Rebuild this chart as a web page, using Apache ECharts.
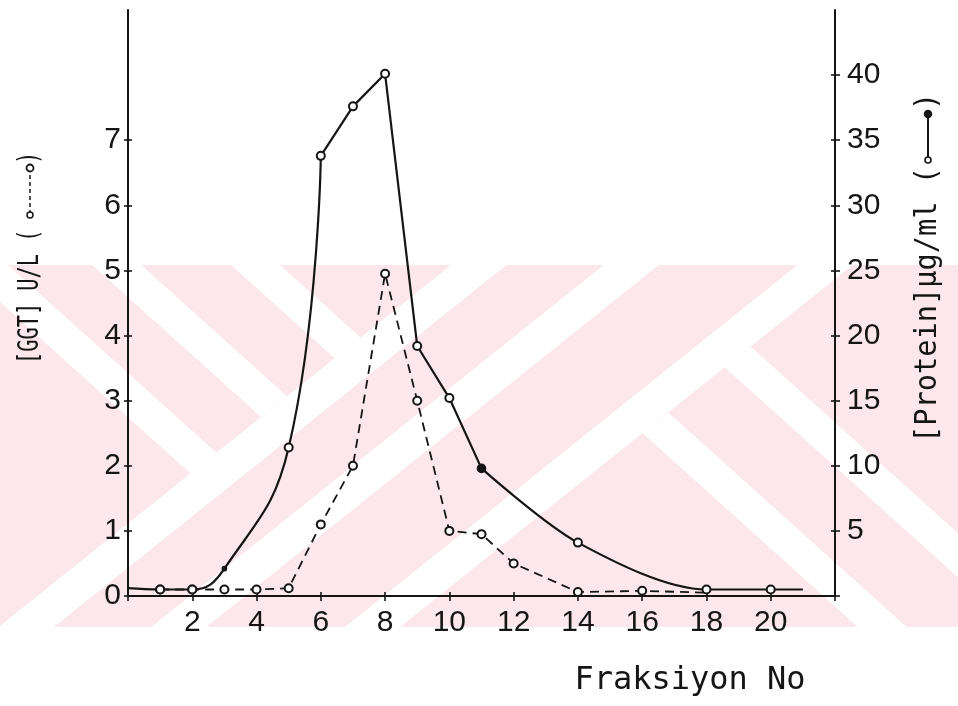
<!DOCTYPE html>
<html>
<head>
<meta charset="utf-8">
<script src="https://cdn.jsdelivr.net/npm/echarts@6/dist/echarts.min.js"></script>
<style>
  html, body { margin: 0; padding: 0; background: #fff; }
  #chart { width: 958px; height: 706px; }
</style>
</head>
<body>
<div id="chart"></div>
<script>
// Fraction numbers and measured values
const fractionsGGT = [1, 2, 3, 4, 5, 6, 7, 8, 9, 10, 11, 12, 14, 16, 18];
const ggtValues = [0.1, 0.1, 0.1, 0.1, 0.12, 1.1, 2.0, 4.95, 3.0, 1.0, 0.95, 0.5, 0.06, 0.08, 0.05];

const fractionsProtein = [0, 1, 2, 3, 5, 6, 7, 8, 9, 10, 11, 14, 18, 20, 21];
const proteinValues = [0.6, 0.5, 0.5, 2.1, 11.4, 33.8, 37.6, 40.1, 19.2, 15.2, 9.8, 4.1, 0.5, 0.5, 0.5];

// Tick labels
const xTicks = [2, 4, 6, 8, 10, 12, 14, 16, 18, 20];
const ggtTicks = [0, 1, 2, 3, 4, 5, 6, 7];
const proteinTicks = [5, 10, 15, 20, 25, 30, 35, 40];

const INK = '#151515';
const PINK = '#fce8ec';
const MONO = '"DejaVu Sans Mono", monospace';

const chart = echarts.init(document.getElementById('chart'), null, { renderer: 'canvas' });

// ---- background stripe pattern (pink band with white diagonal stripes) ----
const BAND_TOP = 265, BAND_BOTTOM = 627;
function clipHalf(poly, a, b, k) {           // keep a*x + b*y <= k
  const out = [];
  for (let i = 0; i < poly.length; i++) {
    const p = poly[i], q = poly[(i + 1) % poly.length];
    const fp = a * p[0] + b * p[1] - k, fq = a * q[0] + b * q[1] - k;
    if (fp <= 0) out.push(p);
    if ((fp <= 0) !== (fq <= 0)) {
      const t = fp / (fp - fq);
      out.push([p[0] + t * (q[0] - p[0]), p[1] + t * (q[1] - p[1])]);
    }
  }
  return out;
}
function stripe(constraints) {
  let poly = [[-300, BAND_TOP], [1300, BAND_TOP], [1300, BAND_BOTTOM], [-300, BAND_BOTTOM]];
  constraints.forEach(c => { poly = clipHalf(poly, c[0], c[1], c[2]); });
  return poly;
}
const HALF = 22;
const risingStripes = [648, 770, 925];          // y + 0.8x = c
const fallingUpper = [35, 160, 280];            // y - 0.9x = d, left of first rising stripe
const fallingLower = [-167, -307];              // right of last rising stripe
const stripeShapes = [];
risingStripes.forEach(c => stripeShapes.push(stripe([[0.8, 1, c + HALF], [-0.8, -1, -(c - HALF)]])));
fallingUpper.forEach(d => stripeShapes.push(stripe([[-0.9, 1, d + HALF], [0.9, -1, -(d - HALF)], [0.8, 1, risingStripes[0] - HALF]])));
fallingLower.forEach(d => stripeShapes.push(stripe([[-0.9, 1, d + HALF], [0.9, -1, -(d - HALF)], [-0.8, -1, -(risingStripes[2] + HALF)]])));

const backdrop = [
  { type: 'rect', z: -10, silent: true, shape: { x: 0, y: BAND_TOP, width: 958, height: BAND_BOTTOM - BAND_TOP }, style: { fill: PINK } }
].concat(stripeShapes.map(pts => ({
  type: 'polygon', z: -9, silent: true, shape: { points: pts }, style: { fill: '#ffffff' }
})));

// ---- axis titles with their line keys ----
function textEl(x, text, font, sx) {
  return { type: 'text', x: x, y: 0, scaleX: sx,
    style: { text: text, font: font, fill: INK, textAlign: 'left', textVerticalAlign: 'middle', align: 'left', verticalAlign: 'middle' } };
}
const titles = [
  { type: 'group', x: 30, y: 260, rotation: Math.PI / 2, children: [
    textEl(-104, '[GGT] U/L (', '29px ' + MONO, 0.7),
    { type: 'line', shape: { x1: 46, y1: 0, x2: 91, y2: 0 }, style: { stroke: INK, lineWidth: 1.5, lineDash: [4, 3] } },
    { type: 'circle', shape: { cx: 45, cy: 0, r: 3 }, style: { fill: '#fff', stroke: INK, lineWidth: 1.5 } },
    { type: 'circle', shape: { cx: 92, cy: 0, r: 3.5 }, style: { fill: '#fff', stroke: INK, lineWidth: 1.8 } },
    textEl(96, ')', '29px ' + MONO, 0.7)
  ]},
  { type: 'group', x: 928, y: 271, rotation: Math.PI / 2, children: [
    textEl(-172, '[Protein]µg/ml (', '30px ' + MONO, 0.955),
    { type: 'line', shape: { x1: 112, y1: 0, x2: 156, y2: 0 }, style: { stroke: INK, lineWidth: 2 } },
    { type: 'circle', shape: { cx: 111, cy: 0, r: 3 }, style: { fill: '#fff', stroke: INK, lineWidth: 1.6 } },
    { type: 'circle', shape: { cx: 157, cy: 0, r: 3.5 }, style: { fill: INK, stroke: INK, lineWidth: 1.5 } },
    textEl(161, ')', '30px ' + MONO, 0.955)
  ]},
  { type: 'text', x: 690, y: 681,
    style: { text: 'Fraksiyon No', font: '32px ' + MONO, fill: INK, textAlign: 'center', textVerticalAlign: 'middle', align: 'center', verticalAlign: 'middle' } }
];

// ---- plot geometry ----
// The frame (axis lines) runs up to 9 U/L = 45 µg/ml; each value scale gets
// its own grid whose top sits at the scale's last tick.
const PLOT = { left: 128, right: 123, top: 10, bottom: 110 };
const PLOT_H = 706 - PLOT.top - PLOT.bottom;
const FRAME_MAX = 9;
const gridUpTo = (fraction) => ({
  left: PLOT.left, right: PLOT.right, bottom: PLOT.bottom,
  top: PLOT.top + PLOT_H * (1 - fraction), containLabel: false
});
const GGT_MAX = 7, PROTEIN_MAX = 40, PROTEIN_FRAME_MAX = 45;
const grids = [
  gridUpTo(1),                                   // 0: frame
  gridUpTo(GGT_MAX / FRAME_MAX),                 // 1: GGT scale
  gridUpTo(PROTEIN_MAX / PROTEIN_FRAME_MAX),     // 2: protein scale
  gridUpTo(GGT_MAX / FRAME_MAX),                 // 3: inner ticks, left + bottom
  gridUpTo(PROTEIN_MAX / PROTEIN_FRAME_MAX)      // 4: inner ticks, right
];

// ---- series data ----
const pairs = (xs, ys) => xs.map((x, i) => [x, ys[i]]);
const ggtData = pairs(fractionsGGT, ggtValues).map((p, i, arr) =>
  i === arr.length - 1 ? { value: p, symbol: 'none' } : { value: p });
const proteinPoints = pairs(fractionsProtein, proteinValues);
const proteinMarks = proteinPoints.map((p, i, arr) => {
  if (i === 0 || i === arr.length - 1) return { value: p, symbol: 'none' };
  if (p[0] === 3) return { value: p, symbol: 'circle', symbolSize: 4 };
  if (p[0] === 11) return { value: p, symbol: 'circle' };
  return { value: p };
});
// The protein trace: curved rise, straight peak and descent, curved tail
const proteinPieces = [
  { from: 0, to: 6, smooth: 0.45 },
  { from: 6, to: 11, smooth: false },
  { from: 11, to: 21, smooth: 0.3 }
];

const labelFont = { fontSize: 30, fontFamily: 'Liberation Sans, Arial, sans-serif', color: INK };
const tickStyle = { color: INK, width: 1.6 };
const showOnly = list => v => (list.indexOf(v) >= 0 ? String(v) : '');
const frameLine = { show: true, onZero: false, lineStyle: { color: INK, width: 2 } };
const noLine = { show: false, onZero: false };
const hiddenX = (gridIndex) => ({ type: 'value', gridIndex, min: 0, max: 22, show: false, axisLine: noLine });
const noGrid = { splitLine: { show: false } };

const option = {
  animation: false,
  backgroundColor: '#ffffff',
  grid: grids,
  graphic: { elements: backdrop.concat(titles) },
  xAxis: [
    Object.assign({ type: 'value', gridIndex: 0, min: 0, max: 22, interval: 2, position: 'bottom',
      axisLine: frameLine,
      axisTick: { show: true, length: 5, lineStyle: tickStyle },
      axisLabel: Object.assign({ margin: 12, formatter: showOnly(xTicks) }, labelFont) }, noGrid),
    hiddenX(1),
    hiddenX(2),
    Object.assign({ type: 'value', gridIndex: 3, min: 0, max: 22, interval: 2, position: 'bottom',
      axisLine: noLine,
      axisTick: { show: true, inside: true, length: 4, lineStyle: tickStyle },
      axisLabel: { show: false } }, noGrid),
    hiddenX(4)
  ],
  yAxis: [
    // 0,1: frame lines, full height
    Object.assign({ type: 'value', gridIndex: 0, min: 0, max: FRAME_MAX, position: 'left', axisLine: frameLine,
      axisTick: { show: false }, axisLabel: { show: false } }, noGrid),
    Object.assign({ type: 'value', gridIndex: 0, min: 0, max: FRAME_MAX, position: 'right', axisLine: frameLine,
      axisTick: { show: false }, axisLabel: { show: false } }, noGrid),
    // 2: GGT scale 0..7
    Object.assign({ type: 'value', gridIndex: 1, min: 0, max: GGT_MAX, interval: 1, position: 'left',
      axisLine: noLine,
      axisTick: { show: true, length: 4, lineStyle: tickStyle },
      axisLabel: Object.assign({ margin: 7, formatter: showOnly(ggtTicks) }, labelFont) }, noGrid),
    // 3: protein scale 0..40
    Object.assign({ type: 'value', gridIndex: 2, min: 0, max: PROTEIN_MAX, interval: 5, position: 'right',
      axisLine: noLine,
      axisTick: { show: true, length: 5, lineStyle: tickStyle },
      axisLabel: Object.assign({ margin: 12, formatter: showOnly(proteinTicks) }, labelFont) }, noGrid),
    // 4: inner GGT ticks
    Object.assign({ type: 'value', gridIndex: 3, min: 0, max: GGT_MAX, interval: 1, position: 'left',
      axisLine: noLine,
      axisTick: { show: true, inside: true, length: 4, lineStyle: tickStyle },
      axisLabel: { show: false } }, noGrid),
    // 5: inner protein ticks
    Object.assign({ type: 'value', gridIndex: 4, min: 0, max: PROTEIN_MAX, interval: 5, position: 'right',
      axisLine: noLine,
      axisTick: { show: true, inside: true, length: 4, lineStyle: tickStyle },
      axisLabel: { show: false } }, noGrid)
  ],
  series: [
    { name: 'GGT', type: 'line', xAxisIndex: 1, yAxisIndex: 2, data: ggtData, clip: false,
      smooth: false, symbol: 'emptyCircle', symbolSize: 8, z: 5,
      lineStyle: { color: INK, width: 1.8, type: [9, 6] },
      itemStyle: { color: INK, borderColor: INK, borderWidth: 1.6 },
      emphasis: { disabled: true } }
  ].concat(proteinPieces.map(piece => ({
      name: 'Protein', type: 'line', xAxisIndex: 2, yAxisIndex: 3, clip: false,
      data: proteinPoints.filter(p => p[0] >= piece.from && p[0] <= piece.to),
      smooth: piece.smooth, showSymbol: false, symbol: 'none', z: 6,
      lineStyle: { color: INK, width: 2.2 },
      emphasis: { disabled: true }
  }))).concat([
    { name: 'Protein', type: 'line', xAxisIndex: 2, yAxisIndex: 3, data: proteinMarks, clip: false,
      symbol: 'emptyCircle', symbolSize: 8, z: 7,
      lineStyle: { opacity: 0, width: 0 },
      itemStyle: { color: INK, borderColor: INK, borderWidth: 1.6 },
      emphasis: { disabled: true } }
  ])
};
chart.setOption(option);
</script>
</body>
</html>
